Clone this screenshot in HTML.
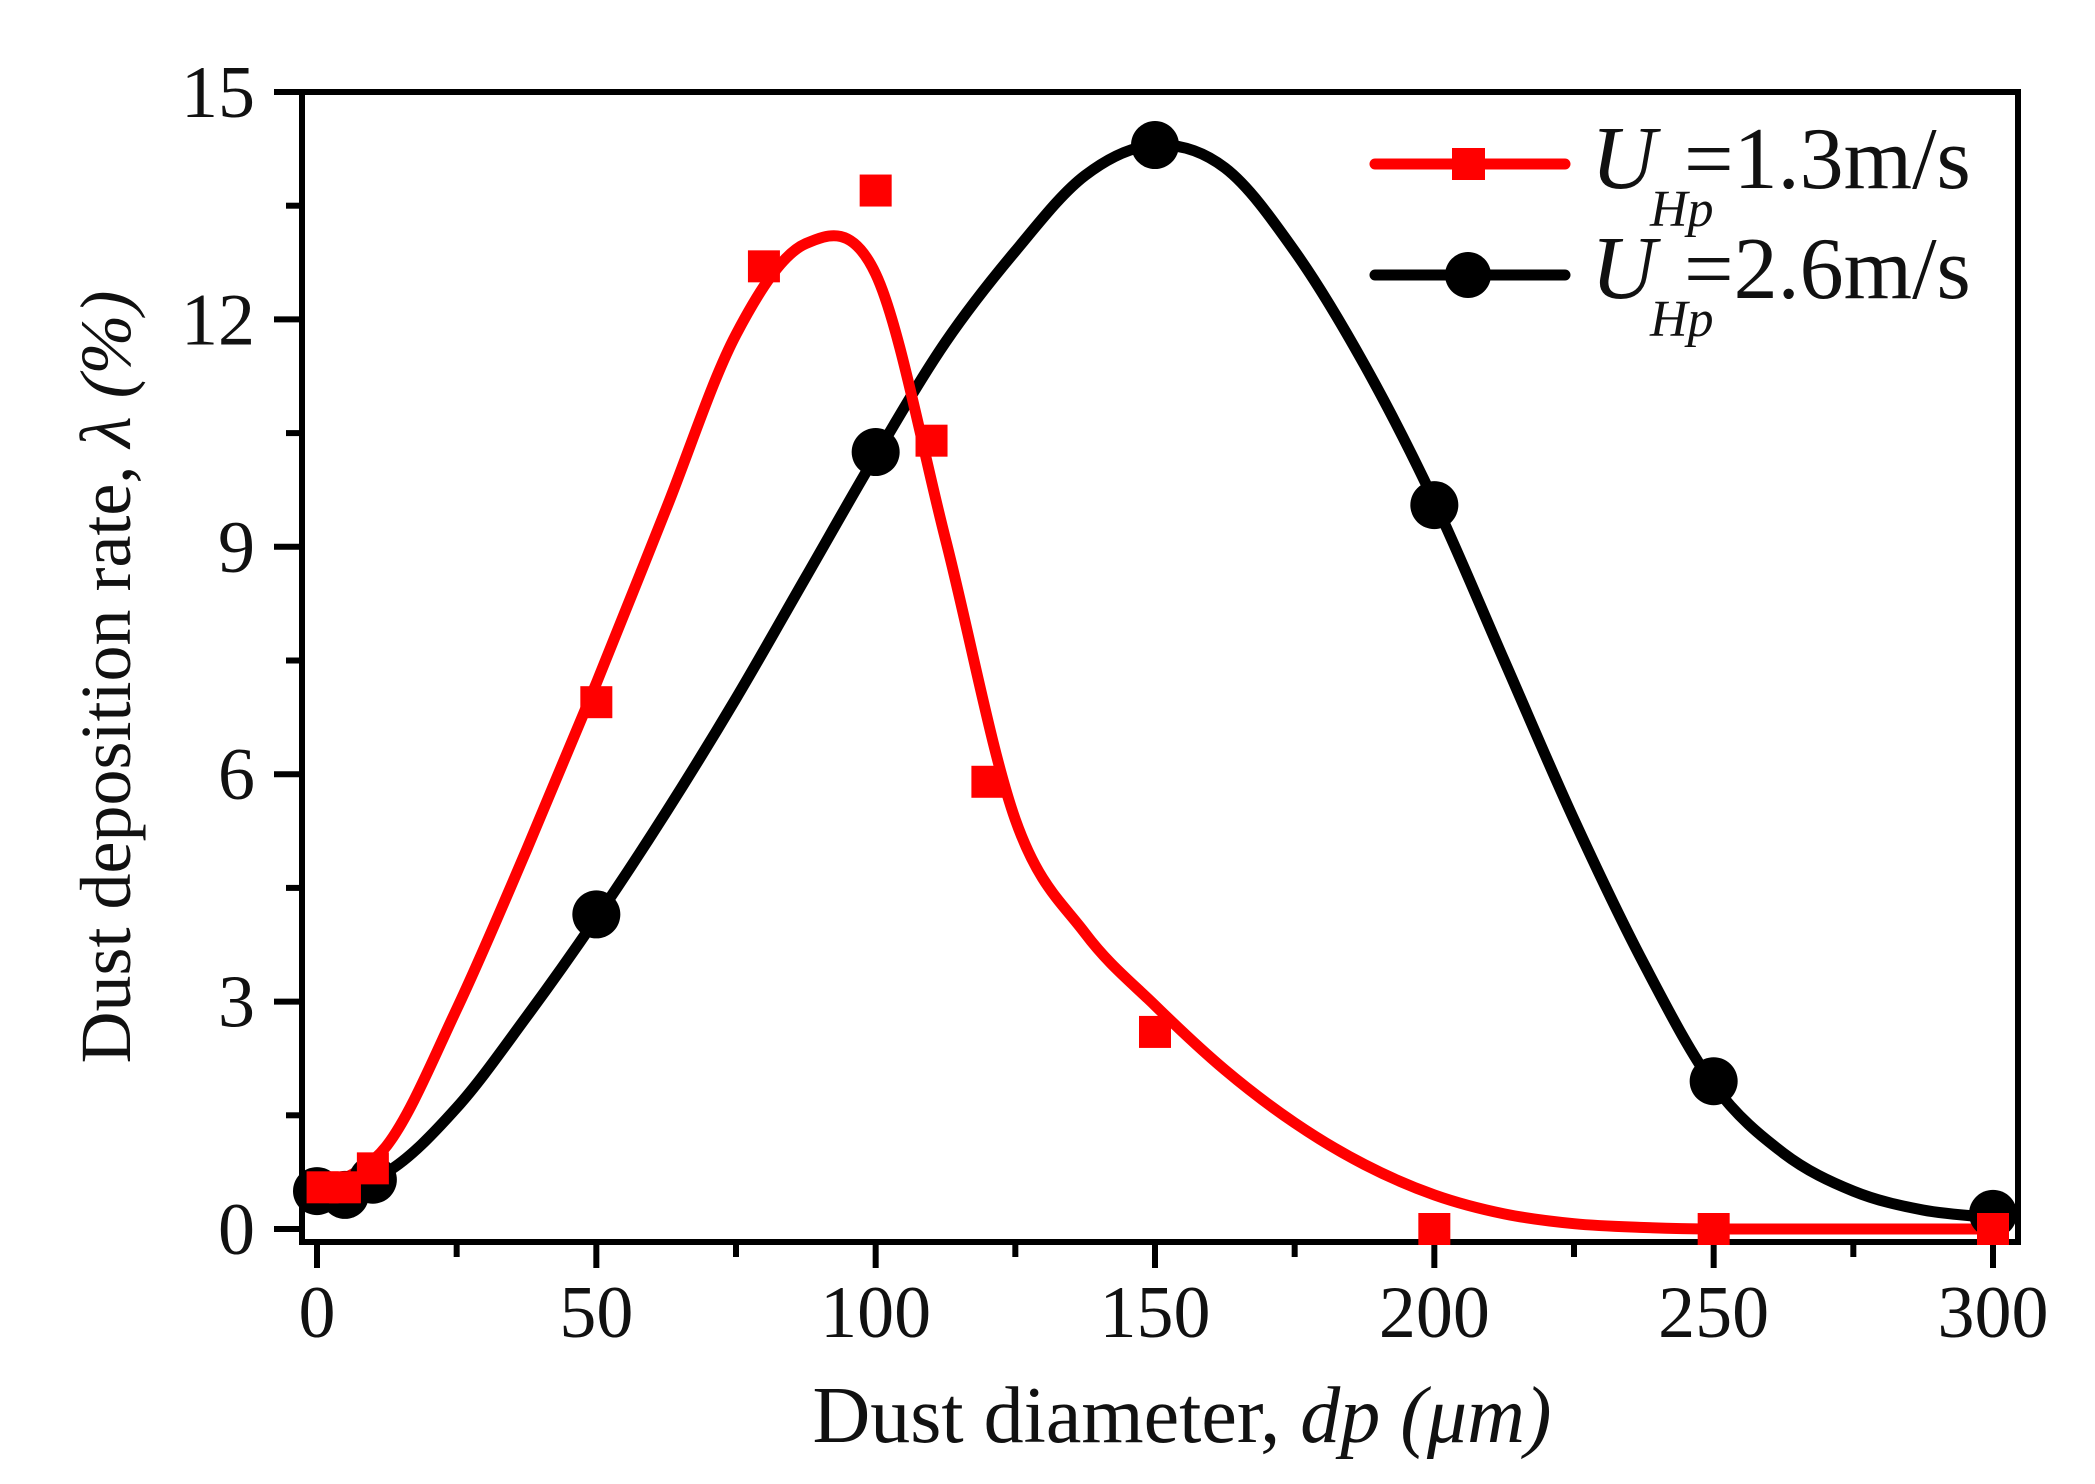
<!DOCTYPE html>
<html><head><meta charset="utf-8"><style>
html,body{margin:0;padding:0;background:#fff}
svg{display:block}
text{font-family:"Liberation Serif",serif;fill:#111}
</style></head><body>
<svg id="chart" width="2095" height="1484" viewBox="0 0 2095 1484" xmlns="http://www.w3.org/2000/svg">
<g id="axes"></g>
<g id="plot"></g>
<text x="1182" y="1442" font-size="80" text-anchor="middle">Dust diameter, <tspan font-style="italic">dp (μm)</tspan></text>
<text transform="translate(130,677) rotate(-90)" font-size="72" text-anchor="middle">Dust deposition rate, <tspan font-style="italic">λ (%)</tspan></text>
<g>
 <g>
  <line x1="1375" y1="164" x2="1565" y2="164" stroke="#ff0000" stroke-width="11" stroke-linecap="round"/>
  <rect x="1452" y="148" width="33" height="32" fill="#ff0000"/>
  <text x="1591" y="188" font-size="90" font-style="italic">U</text>
  <text x="1650" y="226" font-size="52" font-style="italic">Hp</text>
  <text x="1684" y="188" font-size="88">=1.3m/s</text>
 </g>
 <g>
  <line x1="1375" y1="275" x2="1565" y2="275" stroke="#000" stroke-width="11" stroke-linecap="round"/>
  <circle cx="1468" cy="275" r="23" fill="#000"/>
  <text x="1591" y="298" font-size="90" font-style="italic">U</text>
  <text x="1650" y="336" font-size="52" font-style="italic">Hp</text>
  <text x="1684" y="298" font-size="88">=2.6m/s</text>
 </g>
</g>
</svg>
<script>
const xTicks=[0,50,100,150,200,250,300];
const yTicks=[0,3,6,9,12,15];
const redX=[1,5,10,50,80,100,110,120,150,200,250,300];
const redY=[0.55,0.55,0.8,6.95,12.7,13.7,10.4,5.9,2.6,0,0,0];
const blackX=[0,5,10,50,100,150,200,250,300];
const blackY=[0.5,0.45,0.65,4.15,10.25,14.3,9.55,1.95,0.2];
const redFitX=[0,12.5,25,37.5,50,62.5,75,87.5,100,112.5,125,137.5,150,162.5,175,187.5,200,212.5,225,237.5,250,275,300];
const redFitY=[0.5,1.1,2.9,5.0,7.2,9.5,11.8,13.0,12.6,9.1,5.4,3.9,2.95,2.1,1.4,0.85,0.45,0.2,0.07,0.02,0,0,0];
const blackFitX=[0,12.5,25,37.5,50,62.5,75,87.5,100,112.5,125,137.5,150,162.5,175,187.5,200,212.5,225,237.5,250,262.5,275,287.5,300];
const blackFitY=[0.5,0.75,1.6,2.8,4.1,5.5,7.0,8.6,10.2,11.7,12.9,13.9,14.3,14.0,12.9,11.4,9.6,7.5,5.4,3.5,1.9,1.0,0.5,0.25,0.15];
const X=v=>317+v*(1993-317)/300;
const Y=v=>1229-v*(1229-92)/15;
const NS="http://www.w3.org/2000/svg";
function mk(tag,attrs,parent){const e=document.createElementNS(NS,tag);for(const k in attrs)e.setAttribute(k,attrs[k]);parent.appendChild(e);return e;}
const axes=document.getElementById('axes'),plot=document.getElementById('plot');
const frame=mk('rect',{x:302,y:92,width:1716,height:1150,fill:'none',stroke:'#000','stroke-width':6},axes);


for(let v=0;v<=300;v+=25){
 const maj=v%50===0;
 const t=mk('line',{x1:X(v),x2:X(v),y1:1242,y2:maj?1268:1257,stroke:'#000','stroke-width':6},axes);
 
 
}
xTicks.forEach(v=>{const t=mk('text',{x:X(v),y:1337,'font-size':74,'text-anchor':'middle'},axes);t.textContent=v;
 
 });
for(let v=0;v<=15;v+=1.5){
 const maj=Math.abs(v/3-Math.round(v/3))<1e-6;
 const t=mk('line',{x1:maj?274:286,x2:302,y1:Y(v),y2:Y(v),stroke:'#000','stroke-width':6},axes);
 
 
}
yTicks.forEach(v=>{const t=mk('text',{x:255,y:Y(v)+25,'font-size':74,'text-anchor':'end'},axes);t.textContent=v;
 
 });
function smooth(xs,ys){const p=xs.map((x,i)=>[X(x),Y(ys[i])]);let d='M'+p[0].join(',');
 for(let i=0;i<p.length-1;i++){const p0=p[i-1]||p[i],p1=p[i],p2=p[i+1],p3=p[i+2]||p2;
  const c1=[p1[0]+(p2[0]-p0[0])/6,p1[1]+(p2[1]-p0[1])/6],c2=[p2[0]-(p3[0]-p1[0])/6,p2[1]-(p3[1]-p1[1])/6];
  d+=' C'+c1.join(',')+' '+c2.join(',')+' '+p2.join(',');}return d;}
const bl=mk('path',{d:smooth(blackFitX,blackFitY),fill:'none',stroke:'#000','stroke-width':11},plot);


const rl=mk('path',{d:smooth(redFitX,redFitY),fill:'none',stroke:'#ff0000','stroke-width':11},plot);


blackX.forEach((x,i)=>{const c=mk('circle',{cx:X(x),cy:Y(blackY[i]),r:24,fill:'#000'},plot);
 
 });
redX.forEach((x,i)=>{const r=mk('rect',{x:X(x)-16,y:Y(redY[i])-16,width:32,height:32,fill:'#ff0000'},plot);
 
 });
</script>
</body></html>
